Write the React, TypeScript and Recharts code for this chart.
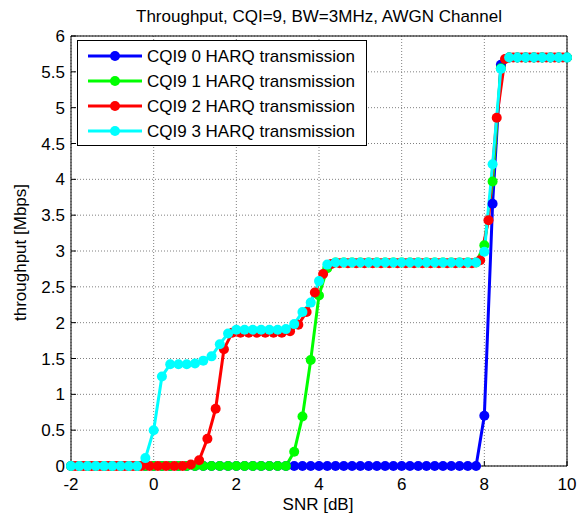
import React from 'react';
import { LineChart, Line, XAxis, YAxis, CartesianGrid, Legend } from 'recharts';

const snrGrid = [
  -2, -1.8, -1.6, -1.4, -1.2, -1, -0.8, -0.6, -0.4, -0.2,
  0, 0.2, 0.4, 0.6, 0.8, 1, 1.2, 1.4, 1.6, 1.8,
  2, 2.2, 2.4, 2.6, 2.8, 3, 3.2, 3.4, 3.6, 3.8,
  4, 4.2, 4.4, 4.6, 4.8, 5, 5.2, 5.4, 5.6, 5.8,
  6, 6.2, 6.4, 6.6, 6.8, 7, 7.2, 7.4, 7.6, 7.8,
  8, 8.2, 8.4, 8.6, 8.8, 9, 9.2, 9.4, 9.6, 9.8, 10,
];

const snrOffset = [
  -1.9, -1.7, -1.5, -1.3, -1.1, -0.9, -0.7, -0.5, -0.3, -0.1,
  0.1, 0.3, 0.5, 0.7, 0.9, 1.1, 1.3, 1.5, 1.7, 1.9,
  2.1, 2.3, 2.5, 2.7, 2.9, 3.1, 3.3, 3.5, 3.7, 3.9,
  4.1, 4.3, 4.5, 4.7, 4.9, 5.1, 5.3, 5.5, 5.7, 5.9,
  6.1, 6.3, 6.5, 6.7, 6.9, 7.1, 7.3, 7.5, 7.7, 7.9,
  8.1, 8.3, 8.5, 8.7, 8.9, 9.1, 9.3, 9.5, 9.7, 9.9,
];

const harq0 = [
  0, 0, 0, 0, 0, 0, 0, 0, 0, 0,
  0, 0, 0, 0, 0, 0, 0, 0, 0, 0,
  0, 0, 0, 0, 0, 0, 0, 0, 0, 0,
  0, 0, 0, 0, 0, 0, 0, 0, 0, 0,
  0, 0, 0, 0, 0, 0, 0, 0, 0, 0,
  0.7, 3.66, 5.6, 5.7, 5.7, 5.7, 5.7, 5.7, 5.7, 5.7, 5.7,
];

const harq1 = [
  0, 0, 0, 0, 0, 0, 0, 0, 0, 0,
  0, 0, 0, 0, 0, 0, 0, 0, 0, 0,
  0, 0, 0, 0, 0, 0, 0, 0.2, 0.69, 1.48,
  2.38, 2.76, 2.84, 2.84, 2.84, 2.84, 2.84, 2.84, 2.84, 2.84,
  2.84, 2.84, 2.84, 2.84, 2.84, 2.84, 2.84, 2.84, 2.84, 2.84,
  3.08, 3.97, 5.55, 5.7, 5.7, 5.7, 5.7, 5.7, 5.7, 5.7, 5.7,
];

const harq2 = [
  0, 0, 0, 0, 0, 0, 0, 0, 0, 0,
  0, 0, 0, 0, 0.02, 0.08, 0.38, 0.8, 1.63, 1.86,
  1.86, 1.86, 1.86, 1.86, 1.86, 1.86, 1.88, 1.97, 2.15, 2.42,
  2.68, 2.82, 2.83, 2.83, 2.83, 2.83, 2.83, 2.83, 2.83, 2.83,
  2.83, 2.83, 2.83, 2.83, 2.83, 2.83, 2.83, 2.83, 2.83, 2.87,
  3.43, 4.86, 5.68, 5.7, 5.7, 5.7, 5.7, 5.7, 5.7, 5.7,
];

const harq3 = [
  0, 0, 0, 0, 0, 0, 0, 0, 0, 0.11,
  0.5, 1.25, 1.42, 1.42, 1.42, 1.43, 1.47, 1.53, 1.7, 1.85,
  1.9, 1.9, 1.9, 1.9, 1.9, 1.9, 1.91, 1.98, 2.15, 2.28,
  2.58, 2.81, 2.84, 2.84, 2.84, 2.84, 2.84, 2.84, 2.84, 2.84,
  2.84, 2.84, 2.84, 2.84, 2.84, 2.84, 2.84, 2.84, 2.84, 2.84,
  2.99, 4.21, 5.54, 5.7, 5.7, 5.7, 5.7, 5.7, 5.7, 5.7, 5.7,
];

const xTicks = [-2, 0, 2, 4, 6, 8, 10];
const yTicks = [0, 0.5, 1, 1.5, 2, 2.5, 3, 3.5, 4, 4.5, 5, 5.5, 6];

const seriesNames = [
  'CQI9 0 HARQ transmission',
  'CQI9 1 HARQ transmission',
  'CQI9 2 HARQ transmission',
  'CQI9 3 HARQ transmission',
];
const seriesColors = ['#0000ff', '#00ff00', '#ff0000', '#00ffff'];

const build = (xs: number[], ys: number[]) => xs.map((x, i) => ({ snr: x, v: ys[i] }));

const seriesData = [
  build(snrGrid, harq0),
  build(snrGrid, harq1),
  build(snrOffset, harq2),
  build(snrGrid, harq3),
];

const FONT = '"Liberation Sans", Arial, Helvetica, sans-serif';

const renderLegend = () => (
  <div
    style={{
      boxSizing: 'border-box',
      width: 290,
      height: 106,
      border: '1px solid #000',
      background: '#fff',
      padding: '2.5px 0 0 10px',
      fontFamily: FONT,
      fontSize: 17,
      color: '#000',
    }}
  >
    {seriesNames.map((name, i) => (
      <div key={name} style={{ display: 'flex', alignItems: 'center', height: 25 }}>
        <svg width={54} height={12} style={{ display: 'block' }}>
          <line x1={0} y1={6} x2={54} y2={6} stroke={seriesColors[i]} strokeWidth={3} />
          <circle cx={27} cy={6} r={5} fill={seriesColors[i]} />
        </svg>
        <span style={{ marginLeft: 5, whiteSpace: 'nowrap', lineHeight: '25px' }}>{name}</span>
      </div>
    ))}
  </div>
);

export default function App() {
  return (
    <div style={{ position: 'absolute', left: 0, top: 0, width: 582, height: 515, background: '#fff' }}>
      <LineChart
        width={582}
        height={515}
        margin={{ top: 35, right: 0, bottom: 0, left: 0 }}
        style={{ fontFamily: FONT }}
      >
        <CartesianGrid stroke="#808080" strokeDasharray="1 2" strokeWidth={1} />
        <XAxis
          dataKey="snr"
          type="number"
          domain={[-2, 10]}
          ticks={xTicks}
          height={49}
          tickSize={-5}
          tickMargin={17}
          stroke="#000"
          tick={{ fill: '#000', fontSize: 17, fontFamily: FONT }}
        />
        <XAxis
          xAxisId="top"
          orientation="top"
          type="number"
          domain={[-2, 10]}
          ticks={xTicks}
          height={1}
          tickSize={-5}
          tick={false}
          stroke="#000"
        />
        <YAxis
          type="number"
          domain={[0, 6]}
          ticks={yTicks}
          width={71}
          tickSize={-5}
          tickMargin={11}
          stroke="#000"
          tick={{ fill: '#000', fontSize: 17, fontFamily: FONT }}
        />
        <YAxis
          yAxisId="right"
          orientation="right"
          type="number"
          domain={[0, 6]}
          ticks={yTicks}
          width={15}
          tickSize={-5}
          tick={false}
          stroke="#000"
        />
        {seriesData.map((d, i) => (
          <Line
            key={seriesNames[i]}
            data={d}
            dataKey="v"
            name={seriesNames[i]}
            type="linear"
            stroke={seriesColors[i]}
            strokeWidth={3}
            dot={{ r: 5, fill: seriesColors[i], stroke: seriesColors[i], strokeWidth: 0 }}
            activeDot={false}
            isAnimationActive={false}
          />
        ))}
        <Legend
          layout="vertical"
          align="center"
          verticalAlign="middle"
          content={renderLegend}
          wrapperStyle={{ position: 'absolute', left: 77, top: 40, width: 290, height: 106 }}
        />
        <text x={319} y={22} textAnchor="middle" fontSize={17} fontFamily={FONT} fill="#000">
          Throughput, CQI=9, BW=3MHz, AWGN Channel
        </text>
        <text x={318} y={510} textAnchor="middle" fontSize={17} fontFamily={FONT} fill="#000">
          SNR [dB]
        </text>
        <text
          x={26}
          y={252.5}
          textAnchor="middle"
          fontSize={17}
          fontFamily={FONT}
          fill="#000"
          transform="rotate(-90, 26, 252.5)"
        >
          throughput [Mbps]
        </text>
      </LineChart>
    </div>
  );
}
